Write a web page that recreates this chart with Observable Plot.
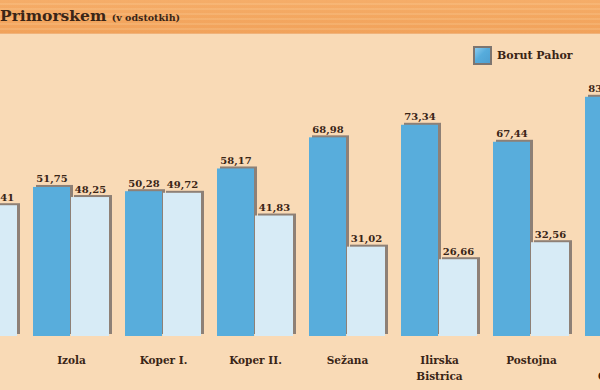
<!DOCTYPE html>
<html>
<head>
<meta charset="utf-8">
<script src="https://cdn.jsdelivr.net/npm/d3@7"></script>
<script src="https://cdn.jsdelivr.net/npm/@observablehq/plot@0.6"></script>
<style>
  html, body { margin: 0; padding: 0; }
  body { width: 600px; height: 390px; overflow: hidden; background: #f9dab6; }
  #page { position: relative; width: 600px; height: 390px; overflow: hidden; background: #f9dab6; }
  #header {
    position: absolute; left: 0; top: 0; width: 600px; height: 33px;
    background:
      repeating-linear-gradient(180deg, rgba(255,255,255,0) 0px, rgba(255,255,255,0) 3px, rgba(255,225,180,0.18) 3px, rgba(255,225,180,0.18) 5px),
      linear-gradient(180deg, #f5ad69 0%, #f3a65f 60%, #f1a25b 100%);
    border-bottom: 1px solid #f0b27a;
  }
  #title {
    position: absolute; left: 0; top: 6px; white-space: nowrap;
    font-family: "DejaVu Serif", serif; font-weight: bold; font-size: 15.5px; color: #3a2516;
  }
  #title .pre { position: absolute; right: 100%; }
  #title small { font-size: 9.5px; }
  #legend {
    position: absolute; left: 473px; top: 46px; display: flex; align-items: center;
    font-family: "DejaVu Serif", serif; font-weight: bold; font-size: 11px; color: #3a2516;
  }
  #legend .sw {
    width: 15px; height: 15px; margin-right: 5px;
    background: linear-gradient(135deg, #8ccbee 0%, #56acdc 45%, #4e9fd0 100%);
    border: 2px solid #7d7570;
  }
  #chart { position: absolute; left: 0; top: 33px; width: 600px; height: 357px; overflow: hidden; }
</style>
</head>
<body>
<div id="page">
  <div id="header"><div id="title"><span class="pre">Predsedniške volitve na&nbsp;</span>Primorskem <small>(v odstotkih)</small></div></div>
  <div id="chart"></div>
  <div id="legend"><div class="sw"></div><span>Borut Pahor</span></div>
</div>
<script>
// Drugi krog predsedniških volitev 2012 po volilnih okrajih
const districts = ["Piran", "Izola", "Koper I.", "Koper II.", "Sežana", "Ilirska\nBistrica", "Postojna", "Nova\nGorica I."];
const pahor = [54.59, 51.75, 50.28, 58.17, 68.98, 73.34, 67.44, 83.06];
const turk  = [45.41, 48.25, 49.72, 41.83, 31.02, 26.66, 32.56, 16.94];
const candidates = ["Borut Pahor", "Danilo Türk"];

const rowsPahor = districts.map((d, i) => ({district: d, candidate: candidates[0], value: pahor[i]}));
const rowsTurk = districts.map((d, i) => ({district: d, candidate: candidates[1], value: turk[i]}));

const darkBlue = "#58addc";
const lightBlue = "#d7ebf6";
const shadow = "#8e8076";
const ink = "#3a2516";
const fmt = v => v.toFixed(2).replace(".", ",");

const serif = "DejaVu Serif, serif";

const chart = Plot.plot({
  width: 600,
  height: 357,
  marginBottom: 54,
  marginTop: 0,
  marginLeft: 0,
  marginRight: 0,
  style: {background: "transparent", overflow: "hidden", fontFamily: serif, color: ink},
  x: {domain: districts, range: [-67.5, 668.5], paddingInner: 0.174, paddingOuter: 0.087, align: 0.5, axis: null},
  y: {domain: [0, 100], range: [303, 15], axis: null},
  marks: [
    // shadows behind each bar
    Plot.barY(rowsPahor, {x: "district", y: "value", insetRight: 39, fill: shadow, dx: 3, dy: -2}),
    Plot.barY(rowsPahor, {x: "district", y: "value", insetRight: 39, fill: darkBlue}),
    Plot.barY(rowsTurk, {x: "district", y: "value", insetLeft: 38, fill: shadow, dx: 3, dy: -2}),
    Plot.barY(rowsTurk, {x: "district", y: "value", insetLeft: 38, fill: lightBlue}),
    Plot.text(rowsPahor, {x: "district", y: "value", text: d => fmt(d.value), dx: -19.5, dy: -5, lineAnchor: "bottom", fontSize: 10, fontWeight: "bold", fontFamily: serif, fill: ink}),
    Plot.text(rowsTurk, {x: "district", y: "value", text: d => fmt(d.value), dx: 19, dy: -5, lineAnchor: "bottom", fontSize: 10, fontWeight: "bold", fontFamily: serif, fill: ink}),
    Plot.axisX({tickSize: 0, tickPadding: 17, label: null, fontSize: 10.5, fontWeight: "bold", fontFamily: serif, fill: ink, lineHeight: 1.45})
  ]
});
document.getElementById("chart").appendChild(chart);
</script>
</body>
</html>
